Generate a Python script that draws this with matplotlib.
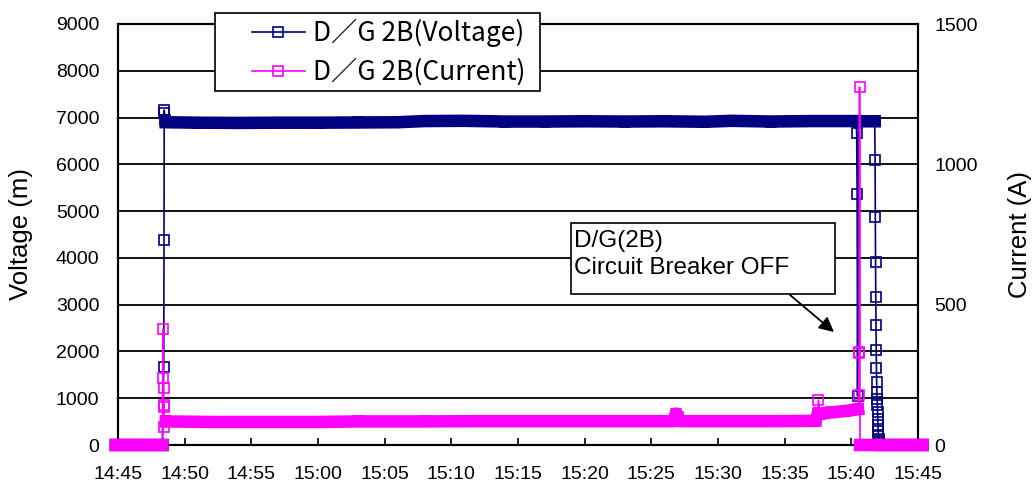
import numpy as np
import pandas as pd
import matplotlib
matplotlib.use("Agg")
import matplotlib.pyplot as plt
import matplotlib.dates as mdates
from matplotlib.patches import Rectangle
from matplotlib.lines import Line2D

plt.rcParams["font.family"] = ["Liberation Sans", "DejaVu Sans"]

NAVY = "#000080"
MAGENTA = "#FF00FF"

# ================== data ==================
volt_times = [
    "14:44:50", "14:48:20", "14:48:26", "14:48:27", "14:48:28", "14:48:29",
    "14:48:31", "14:48:35", "14:51:00", "14:54:00", "14:57:00", "15:00:00",
    "15:03:00", "15:06:00", "15:08:00", "15:11:00", "15:14:00", "15:17:00",
    "15:20:00", "15:23:00", "15:26:00", "15:29:00", "15:31:00", "15:34:00",
    "15:37:00", "15:40:20", "15:40:24", "15:40:26", "15:40:28", "15:40:32",
    "15:41:45", "15:41:47", "15:41:48", "15:41:49", "15:41:50", "15:41:51",
    "15:41:52", "15:41:53", "15:41:54", "15:41:55", "15:41:56", "15:41:57",
    "15:41:58", "15:41:59", "15:42:00", "15:42:01", "15:42:02", "15:42:03",
    "15:42:04", "15:42:05", "15:42:08", "15:45:20",
]
volt_values = [
    0, 0, 1670, 4380, 7160, 7100,
    6950, 6900, 6890, 6885, 6890, 6890,
    6895, 6900, 6925, 6930, 6915, 6915,
    6920, 6915, 6920, 6910, 6930, 6915,
    6925, 6925, 6670, 5370, 1050, 6920,
    6920, 6090, 4870, 3910, 3160, 2560,
    2030, 1650, 1350, 1130, 990, 850,
    700, 560, 420, 300, 200, 120,
    60, 20, 0, 0,
]
# steady periods where the dense samples merge into a thick band
volt_steady = [("14:44:50", "14:48:20"), ("14:48:35", "15:40:20"),
               ("15:40:32", "15:41:45"), ("15:42:08", "15:45:20")]

cur_times = [
    "14:44:50", "14:48:20", "14:48:22", "14:48:23", "14:48:25", "14:48:26",
    "14:48:27", "14:48:29", "14:48:35", "14:52:00", "14:56:00", "15:00:00",
    "15:03:00", "15:08:00", "15:12:00", "15:16:00", "15:20:00", "15:24:00",
    "15:26:40", "15:26:50", "15:27:00", "15:27:10", "15:30:00", "15:34:00",
    "15:37:20", "15:37:28", "15:37:32", "15:37:38", "15:38:30", "15:39:30",
    "15:40:30", "15:40:33", "15:40:35", "15:40:36", "15:40:37", "15:40:39",
    "15:45:20",
]
cur_values = [
    0, 0, 413, 238, 203, 135,
    142, 64, 84, 82, 82, 82,
    84, 84, 85, 85, 85, 85,
    85, 112, 100, 85, 85, 85,
    86, 110, 160, 112, 116, 121,
    127, 178, 331, 328, 1275, 0,
    0,
]
cur_steady = [("14:44:50", "14:48:20"), ("14:48:35", "15:37:28"),
              ("15:37:38", "15:40:30"), ("15:40:39", "15:45:20")]

legend_labels = ["D／G 2B(Voltage)", "D／G 2B(Current)"]
note_text = "D/G(2B)\nCircuit Breaker OFF"
note_target = ("15:38:42", 2415)  # arrow tip, in voltage units


def to_dt(ts):
    return pd.to_datetime(["2000-01-01 " + t for t in ts])


def steady_only(times, values, windows):
    out = np.array(values, dtype=float)
    keep = np.zeros(len(times), dtype=bool)
    for a, b in windows:
        keep |= (times >= to_dt([a])[0]) & (times <= to_dt([b])[0])
    out[~keep] = np.nan
    return out


vt = to_dt(volt_times)
ct = to_dt(cur_times)

# ================== figure ==================
W, H = 1036, 486
fig = plt.figure(figsize=(W / 100, H / 100), dpi=100)
ax = fig.add_axes([118 / W, 41 / H, 800 / W, 421 / H])
ax2 = ax.twinx()

# voltage
ax.plot(vt, volt_values, color=NAVY, lw=1.2, marker="s", ms=6.5,
        mfc="none", mew=1.2, clip_on=False, zorder=3)
ax.plot(vt, steady_only(vt, volt_values, volt_steady), color=NAVY, lw=9,
        solid_capstyle="projecting", clip_on=False, zorder=3)

# current
ax2.plot(ct, cur_values, color=MAGENTA, lw=1.2, marker="s", ms=6.5,
         mfc="none", mew=1.2, clip_on=False, zorder=3)
ax2.plot(ct, steady_only(ct, cur_values, cur_steady), color=MAGENTA, lw=9,
         solid_capstyle="projecting", clip_on=False, zorder=3)

# axes
ax.set_xlim(to_dt(["14:45:00"])[0], to_dt(["15:45:00"])[0])
ax.set_ylim(0, 9000)
ax.set_yticks(range(0, 9001, 1000))
ax2.set_ylim(0, 1500)
ax2.set_yticks([0, 500, 1000, 1500])

ax.xaxis.set_major_locator(mdates.MinuteLocator(byminute=range(0, 60, 5)))
ax.xaxis.set_major_formatter(mdates.DateFormatter("%H:%M"))

ax.yaxis.grid(True, color="black", lw=1.3)
ax.set_axisbelow(True)
for a in (ax, ax2):
    for s in a.spines.values():
        s.set_linewidth(1.5)
        s.set_color("black")

ax.tick_params(axis="x", direction="in", length=5, width=1.2, labelsize=14, pad=15)
ax.tick_params(axis="y", length=0, labelsize=14, pad=13.5)
ax2.tick_params(axis="y", length=0, labelsize=14, pad=12)

ax.set_ylabel("Voltage (m)", fontsize=18.5)
ax.yaxis.set_label_coords((33 - 118) / 800, 0.5)
ax2.set_ylabel("Current (A)", fontsize=18.5)
ax2.yaxis.set_label_coords((1008 - 118) / 800, 0.5)

# legend: frame drawn separately, entries placed inside it
frame = Rectangle((215 / W, 1 - 91 / H), 325 / W, 78 / H,
                  transform=fig.transFigure, facecolor="white",
                  edgecolor="black", lw=1.2, zorder=4.5, clip_on=False)
ax2.add_artist(frame)
handles = [
    Line2D([], [], color=NAVY, lw=1.2, marker="s", ms=6.5, mfc="none", mew=1.2),
    Line2D([], [], color=MAGENTA, lw=1.2, marker="s", ms=6.5, mfc="none", mew=1.2),
]
leg = ax2.legend(handles, legend_labels,
                 loc="upper left", bbox_to_anchor=(252 / W, 1 - 19 / H),
                 bbox_transform=fig.transFigure, borderaxespad=0, borderpad=0,
                 prop={"family": ["Noto Sans CJK JP", "DejaVu Sans"], "size": 19},
                 handlelength=2.0, handletextpad=0.3, labelspacing=0.42,
                 frameon=False)

# annotation box + arrow
note_box = Rectangle((571 / W, 1 - 294 / H), 264 / W, 71 / H,
                     transform=fig.transFigure, facecolor="white",
                     edgecolor="black", lw=1.2, zorder=6, clip_on=False)
ax2.add_artist(note_box)
tip = (to_dt([note_target[0]])[0], note_target[1] / 6)
ax2.text(574 / W, 1 - 230 / H, note_text, transform=fig.transFigure,
         ha="left", va="top", fontsize=17.5, linespacing=1.3, zorder=7)
ax2.annotate("", xy=tip, xytext=(790 / W, 1 - 295 / H),
             textcoords="figure fraction",
             arrowprops=dict(arrowstyle="-|>", color="black", lw=1.3,
                             mutation_scale=22, shrinkA=0, shrinkB=0),
             zorder=7)

plt.savefig("out.png", dpi=100)
